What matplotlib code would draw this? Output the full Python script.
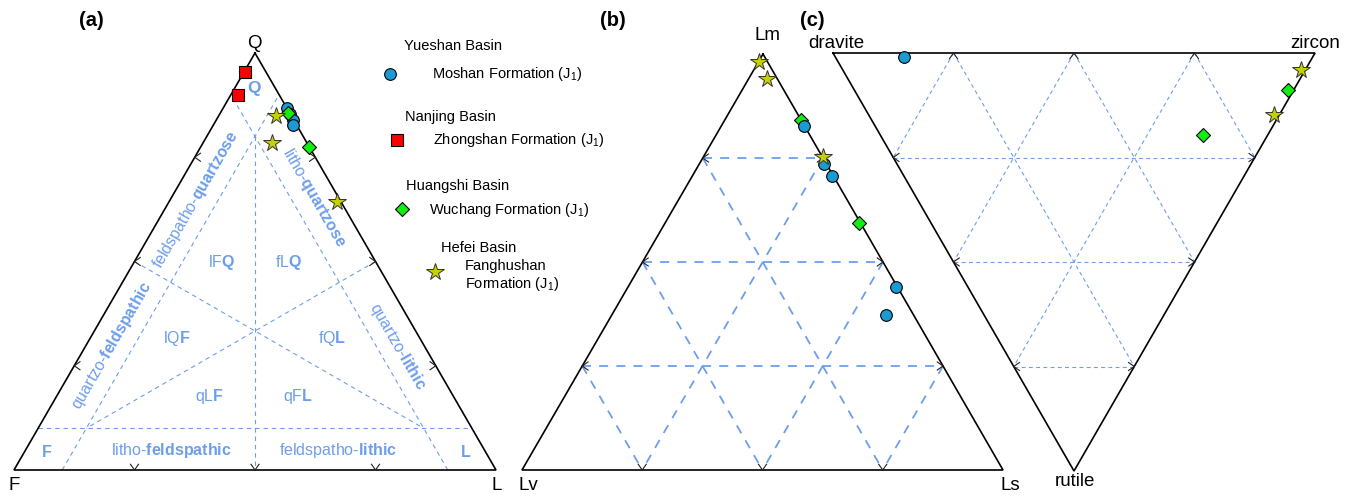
import numpy as np
import matplotlib
matplotlib.use("Agg")
import matplotlib.pyplot as plt

plt.rcParams['font.family'] = ['Liberation Sans', 'DejaVu Sans']
plt.rcParams['mathtext.fontset'] = 'custom'
plt.rcParams['mathtext.rm'] = 'Liberation Sans'
plt.rcParams['mathtext.bf'] = 'Liberation Sans:bold'
plt.rcParams['mathtext.it'] = 'Liberation Sans:italic'

# ---------------- data (percent) ----------------
# (a) Q-F-L
moshan_Q = [86.8, 85.4, 83.9, 82.7]
moshan_F = [0.0, 0.0, 0.2, 0.8]
moshan_L = [13.2, 14.6, 15.9, 16.5]
zhongshan_Q = [95.4, 89.9]
zhongshan_F = [4.4, 8.6]
zhongshan_L = [0.2, 1.5]
wuchang_Q = [85.6, 77.5]
wuchang_F = [0.4, 0.0]
wuchang_L = [14.0, 22.5]
fanghushan_Q = [84.9, 78.4, 64.3]
fanghushan_F = [3.2, 7.3, 0.8]
fanghushan_L = [11.9, 14.3, 34.9]

# (b) Lm-Lv-Ls
moshan_Lm = [82.7, 73.6, 70.7, 44.0, 37.3]
moshan_Lv = [0.1, 0.5, 0.3, 0.3, 5.7]
moshan_Ls = [17.2, 25.9, 29.0, 55.7, 57.0]
wuchang_Lm = [84.1, 59.4]
wuchang_Lv = [0.1, 0.3]
wuchang_Ls = [15.8, 40.3]
fanghushan_Lm = [98.1, 94.0, 75.2]
fanghushan_Lv = [1.8, 2.2, 0.0]
fanghushan_Ls = [0.1, 3.8, 24.8]

# (c) dravite-zircon-rutile
moshan_D = [84.7]
moshan_Z = [14.3]
moshan_R = [1.0]
wuchang_D = [1.1, 13.5]
wuchang_Z = [90.0, 66.9]
wuchang_R = [8.9, 19.6]
fanghushan_D = [0.8, 1.1]
fanghushan_Z = [95.1, 84.1]
fanghushan_R = [4.1, 14.8]

basins = ["Yueshan Basin", "Nanjing Basin", "Huangshi Basin", "Hefei Basin"]
formations = [r"Moshan Formation ($\mathrm{J_1}$)", r"Zhongshan Formation ($\mathrm{J_1}$)",
              r"Wuchang Formation ($\mathrm{J_1}$)", "Fanghushan\n" + r"Formation ($\mathrm{J_1}$)"]

# ---------------- styles ----------------
C_CIRC = '#1a9bd4'
C_SQ = '#ff0000'
C_DIA = '#11ee11'
C_STAR = '#c4d000'
GRID = '#6d9eeb'
TXT = '#6d9eeb'

sty = {
    'circ': dict(marker='o', ms=8.4, mfc=C_CIRC, mec='black', mew=0.8, ls='none'),
    'sq': dict(marker='s', ms=8.2, mfc=C_SQ, mec='black', mew=0.8, ls='none'),
    'dia': dict(marker='D', ms=7.2, mfc=C_DIA, mec='black', mew=0.8, ls='none'),
    'star': dict(marker='*', ms=13, mfc=C_STAR, mec='#333333', mew=0.7, ls='none'),
}

fig = plt.figure(figsize=(13.57, 4.96), dpi=100)
ax = fig.add_axes([0, 0, 1, 1])
ax.set_xlim(0, 1357)
ax.set_ylim(496, 0)
ax.axis('off')

# triangle frames (layout, pixel space)
TA = np.array([[255.0, 53.0], [14.0, 470.0], [496.0, 470.0]])   # Q, F, L
TB = np.array([[763.0, 54.0], [522.0, 470.0], [1003.0, 470.0]])  # Lm, Lv, Ls
TC = np.array([[833.0, 53.0], [1315.0, 53.0], [1074.0, 471.0]])  # dravite, zircon, rutile


def tern(T, a, b, c):
    a = np.asarray(a, float); b = np.asarray(b, float); c = np.asarray(c, float)
    s = a + b + c
    x = (a * T[0, 0] + b * T[1, 0] + c * T[2, 0]) / s
    y = (a * T[0, 1] + b * T[1, 1] + c * T[2, 1]) / s
    return x, y


def frame(T):
    P = np.vstack([T, T[:1]])
    ax.plot(P[:, 0], P[:, 1], color='black', lw=1.2, zorder=3, solid_joinstyle='miter')


def tline(T, p1, p2, **kw):
    x1, y1 = tern(T, *p1)
    x2, y2 = tern(T, *p2)
    ax.plot([x1, x2], [y1, y2], **kw)


def chevrons(T, L=7.0, color='#222222'):
    cen = T.mean(axis=0)
    for i in range(3):
        A, B = T[i], T[(i + 1) % 3]
        horiz = abs(A[1] - B[1]) < 1
        for t in (0.25, 0.5, 0.75):
            P = A + t * (B - A)
            if horiz:
                d = np.array([0.0, np.sign(cen[1] - P[1])])
            else:
                d = np.array([np.sign(cen[0] - P[0]), 0.0])
            for ang in (np.radians(35), -np.radians(35)):
                R = np.array([[np.cos(ang), -np.sin(ang)], [np.sin(ang), np.cos(ang)]])
                e = P + L * (R @ d)
                ax.plot([P[0], e[0]], [P[1], e[1]], color=color, lw=0.8, zorder=3)


# ---------------- panel (a) ----------------
ka = dict(color=GRID, lw=0.8, dashes=(4, 3.5), zorder=1)
tline(TA, (0.1, 0.9, 0), (0.1, 0, 0.9), **ka)      # Q = 10 %
tline(TA, (0, 0.9, 0.1), (0.9, 0, 0.1), **ka)      # L = 10 %
tline(TA, (0, 0.1, 0.9), (0.9, 0.1, 0), **ka)      # F = 10 %
tline(TA, (0.8, 0.1, 0.1), (0, 0.5, 0.5), **ka)    # Q median
tline(TA, (0.5, 0, 0.5), (0.1, 0.8, 0.1), **ka)    # F median
tline(TA, (0.5, 0.5, 0), (0.1, 0.1, 0.8), **ka)    # L median
frame(TA)
chevrons(TA)

ax.plot(*tern(TA, moshan_Q, moshan_F, moshan_L), zorder=5, **sty['circ'])
ax.plot(*tern(TA, zhongshan_Q, zhongshan_F, zhongshan_L), zorder=5, **sty['sq'])
ax.plot(*tern(TA, wuchang_Q, wuchang_F, wuchang_L), zorder=6, **sty['dia'])
ax.plot(*tern(TA, fanghushan_Q, fanghushan_F, fanghushan_L), zorder=6, **sty['star'])

fs_cls = 11.5
cls_labels = [
    (r"$\mathbf{Q}$", 254, 88, 0, 12.5),
    (r"feldspatho-$\mathbf{quartzose}$", 196, 200, 60, fs_cls),
    (r"litho-$\mathbf{quartzose}$", 314, 198, -60, fs_cls),
    (r"lF$\mathbf{Q}$", 222, 263, 0, fs_cls),
    (r"fL$\mathbf{Q}$", 289, 263, 0, fs_cls),
    (r"quartzo-$\mathbf{feldspathic}$", 112, 346, 60, fs_cls),
    (r"quartzo-$\mathbf{lithic}$", 398, 346, -60, fs_cls),
    (r"lQ$\mathbf{F}$", 177, 339, 0, fs_cls),
    (r"fQ$\mathbf{L}$", 332, 339, 0, fs_cls),
    (r"qL$\mathbf{F}$", 210, 396, 0, fs_cls),
    (r"qF$\mathbf{L}$", 298, 396, 0, fs_cls),
    (r"$\mathbf{F}$", 47, 452, 0, fs_cls),
    (r"$\mathbf{L}$", 466, 452, 0, fs_cls),
    (r"litho-$\mathbf{feldspathic}$", 171, 451, 0, fs_cls),
    (r"feldspatho-$\mathbf{lithic}$", 338, 451, 0, fs_cls),
]
for s, x, y, r, f in cls_labels:
    ax.text(x, y, s, color=TXT, fontsize=f, rotation=r, ha='center', va='center',
            rotation_mode='anchor', zorder=4)

FS_V = 13.5
ax.text(254, 44, "Q", fontsize=FS_V, ha='center', va='center')
ax.text(14, 485, "F", fontsize=FS_V, ha='center', va='center')
ax.text(497, 485, "L", fontsize=FS_V, ha='center', va='center')
ax.text(91, 20, "(a)", fontsize=14.5, fontweight='bold', ha='center', va='center')

# ---------------- legend ----------------
leg_keys = ['circ', 'sq', 'dia', 'star']
title_xy = [(404, 46), (405, 117), (406, 186), (441, 248)]
key_xy = [(390, 74), (397, 140), (402, 209), (435, 272)]
lab_xy = [(432, 74), (433, 140), (429, 210), (465, 276)]
for b, f, k, txy, kxy, lxy in zip(basins, formations, leg_keys, title_xy, key_xy, lab_xy):
    ax.text(txy[0], txy[1], b, fontsize=10.5, ha='left', va='center')
    ax.plot([kxy[0]], [kxy[1]], zorder=5, **sty[k])
    ax.text(lxy[0], lxy[1], f, fontsize=10.5, ha='left', va='center', linespacing=1.2)

# ---------------- panel (b) ----------------
kb = dict(color=GRID, lw=1.3, dashes=(5, 4.5), zorder=1)
for t in (0.25, 0.5, 0.75):
    tline(TB, (t, 1 - t, 0), (t, 0, 1 - t), **kb)
    tline(TB, (1 - t, t, 0), (0, t, 1 - t), **kb)
    tline(TB, (1 - t, 0, t), (0, 1 - t, t), **kb)
frame(TB)
chevrons(TB)
ax.plot(*tern(TB, wuchang_Lm, wuchang_Lv, wuchang_Ls), zorder=5, **sty['dia'])
ax.plot(*tern(TB, moshan_Lm, moshan_Lv, moshan_Ls), zorder=6, **sty['circ'])
ax.plot(*tern(TB, fanghushan_Lm, fanghushan_Lv, fanghushan_Ls), zorder=7, **sty['star'])
ax.text(767, 36, "Lm", fontsize=FS_V, ha='center', va='center')
ax.text(528, 485, "Lv", fontsize=FS_V, ha='center', va='center')
ax.text(1010, 485, "Ls", fontsize=FS_V, ha='center', va='center')
ax.text(613, 20, "(b)", fontsize=14.5, fontweight='bold', ha='center', va='center')

# ---------------- panel (c) ----------------
kc = dict(color=GRID, lw=0.8, dashes=(3.5, 3), zorder=1)
for t in (0.25, 0.5, 0.75):
    tline(TC, (t, 1 - t, 0), (t, 0, 1 - t), **kc)
    tline(TC, (1 - t, t, 0), (0, t, 1 - t), **kc)
    tline(TC, (1 - t, 0, t), (0, 1 - t, t), **kc)
frame(TC)
chevrons(TC)
ax.plot(*tern(TC, moshan_D, moshan_Z, moshan_R), zorder=5, **sty['circ'])
ax.plot(*tern(TC, wuchang_D, wuchang_Z, wuchang_R), zorder=5, **sty['dia'])
ax.plot(*tern(TC, fanghushan_D, fanghushan_Z, fanghushan_R), zorder=6, **sty['star'])
ax.text(836, 43, "dravite", fontsize=FS_V, ha='center', va='center')
ax.text(1315, 43, "zircon", fontsize=FS_V, ha='center', va='center')
ax.text(1075, 482, "rutile", fontsize=FS_V, ha='center', va='center')
ax.text(812, 20, "(c)", fontsize=14.5, fontweight='bold', ha='center', va='center')

fig.savefig("out.png", dpi=100)
